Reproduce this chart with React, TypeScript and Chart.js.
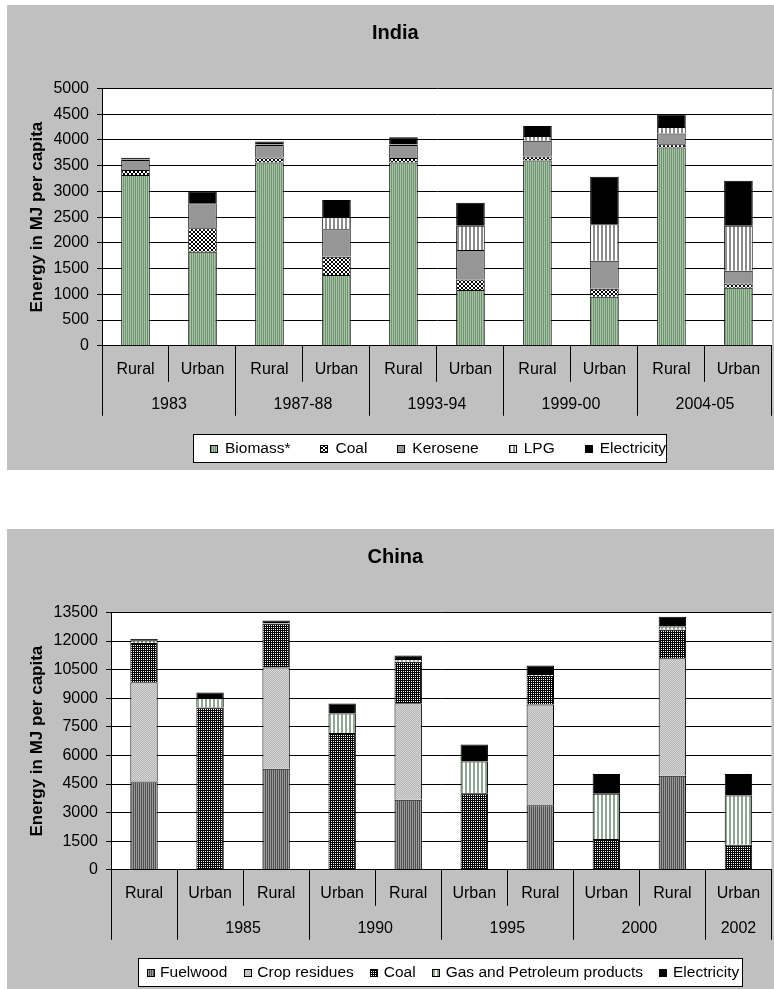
import React, { useEffect, useRef } from 'react';
import { Chart, registerables } from 'chart.js';

Chart.register(...registerables);

const FONT = 'Arial, "Liberation Sans", sans-serif';

// ---------------- India ----------------
const indiaCategories = ['Rural', 'Urban', 'Rural', 'Urban', 'Rural', 'Urban', 'Rural', 'Urban', 'Rural', 'Urban'];
const indiaYears = ['1983', '1987-88', '1993-94', '1999-00', '2004-05'];
const indiaGroupSizes = [2, 2, 2, 2, 2];
const indiaBiomass = [3317, 1827, 3560, 1374, 3560, 1082, 3600, 952, 3850, 1127];
const indiaCoal = [100, 454, 100, 356, 90, 208, 75, 156, 65, 85];
const indiaKerosene = [190, 486, 240, 532, 250, 570, 310, 544, 210, 245];
const indiaLPG = [10, 0, 10, 233, 10, 472, 90, 707, 125, 875];
const indiaElectricity = [35, 226, 60, 336, 140, 447, 195, 925, 250, 874];
const indiaYMax = 5000;
const indiaYStep = 500;

// ---------------- China ----------------
const chinaCategories = ['Rural', 'Urban', 'Rural', 'Urban', 'Rural', 'Urban', 'Rural', 'Urban', 'Rural', 'Urban'];
const chinaYears = ['', '1985', '1990', '1995', '2000', '2002'];
const chinaGroupSizes = [1, 2, 2, 2, 2, 1];
const chinaFuelwood = [4630, 0, 5300, 0, 3670, 0, 3390, 0, 4930, 0];
const chinaCropResidues = [5200, 0, 5310, 0, 5070, 0, 5280, 0, 6170, 0];
const chinaCoal = [2060, 8510, 2290, 7170, 2170, 4020, 1500, 1610, 1490, 1310];
const chinaGas = [150, 490, 30, 1030, 140, 1660, 105, 2380, 175, 2590];
const chinaElectricity = [60, 300, 150, 525, 190, 890, 435, 1030, 505, 1120];
const chinaYMax = 13500;
const chinaYStep = 1500;

const Y_TITLE = 'Energy in MJ per capita';

function tile(cells: string[][]): CanvasPattern {
  const h = cells.length;
  const w = cells[0].length;
  const c = document.createElement('canvas');
  c.width = w;
  c.height = h;
  const g = c.getContext('2d')!;
  cells.forEach((row, y) =>
    row.forEach((col, x) => {
      g.fillStyle = col;
      g.fillRect(x, y, 1, 1);
    })
  );
  return g.createPattern(c, 'repeat')!;
}
const vstripes = (cols: string[]) => tile([cols]);

const alignPx = (p: number) => Math.round(p - 0.5) + 0.5;

const panelPlugin = {
  id: 'panel',
  beforeDraw(chart: any) {
    const { ctx, width, height, chartArea: ca } = chart;
    ctx.save();
    ctx.fillStyle = '#c0c0c0';
    ctx.fillRect(0, 0, width, height);
    ctx.fillStyle = '#ffffff';
    ctx.fillRect(ca.left, ca.top, ca.right - ca.left, ca.bottom - ca.top);
    ctx.restore();
  },
  afterDraw(chart: any, _args: any, o: any) {
    const { ctx, chartArea: ca } = chart;
    const n = chart.data.labels.length;
    const bw = (ca.right - ca.left) / n;
    const bounds = [0];
    o.groupSizes.forEach((s: number) => bounds.push(bounds[bounds.length - 1] + s));
    ctx.save();
    ctx.strokeStyle = '#000';
    ctx.lineWidth = 1;
    ctx.beginPath();
    for (let i = 0; i <= n; i++) {
      const x = alignPx(ca.left + i * bw);
      const len = bounds.includes(i) ? o.longTick : o.shortTick;
      ctx.moveTo(x, ca.bottom);
      ctx.lineTo(x, ca.bottom + len);
    }
    ctx.stroke();

    ctx.fillStyle = '#000';
    ctx.font = `16px ${FONT}`;
    ctx.textAlign = 'center';
    ctx.textBaseline = 'middle';
    o.years.forEach((y: string, g: number) => {
      const cx = ca.left + (bounds[g] + o.groupSizes[g] / 2) * bw;
      ctx.fillText(y, cx, ca.bottom + o.yearOffset);
    });

    const L = o.legend;
    ctx.fillStyle = '#fff';
    ctx.fillRect(L.left, L.top, L.width, L.height);
    ctx.strokeRect(L.left + 0.5, L.top + 0.5, L.width - 1, L.height - 1);
    let x = L.startX;
    const cy = L.top + L.height / 2;
    ctx.textAlign = 'left';
    ctx.font = `${L.fontSize}px ${FONT}`;
    chart.data.datasets.forEach((ds: any) => {
      const by = Math.round(cy - L.box / 2);
      ctx.fillStyle = ds.backgroundColor;
      ctx.fillRect(Math.round(x), by, L.box, L.box);
      ctx.strokeRect(Math.round(x) + 0.5, by + 0.5, L.box - 1, L.box - 1);
      ctx.fillStyle = '#000';
      ctx.fillText(ds.label, x + L.textGap, cy);
      x += L.textGap + ctx.measureText(ds.label).width + L.gap;
    });
    ctx.restore();
  },
};

type Series = { label: string; data: number[]; fill: string | CanvasPattern };

type PanelProps = {
  title: string;
  top: number;
  height: number;
  labels: string[];
  makeSeries: () => Series[];
  yMax: number;
  yStep: number;
  yAxisWidth: number;
  barPct: number;
  years: string[];
  groupSizes: number[];
  legend: any;
};

const CANVAS_W = 767;
const PLOT_BOTTOM = 340.8;
const PAD_LEFT = 11;

function Panel(p: PanelProps) {
  const ref = useRef<HTMLCanvasElement>(null);
  useEffect(() => {
    const series = p.makeSeries();
    const chart = new Chart(ref.current!, {
      type: 'bar',
      data: {
        labels: p.labels,
        datasets: series.map((s) => ({
          label: s.label,
          data: s.data,
          backgroundColor: s.fill as any,
          borderColor: '#000',
          borderWidth: 1,
        })),
      },
      options: {
        responsive: false,
        animation: false,
        devicePixelRatio: 1,
        layout: { padding: { left: PAD_LEFT, right: 1.5, top: 0, bottom: 0 } },
        datasets: { bar: { barPercentage: p.barPct, categoryPercentage: 1 } },
        plugins: {
          legend: { display: false },
          tooltip: { enabled: false },
          title: {
            display: true,
            text: p.title,
            color: '#000',
            font: { family: FONT, size: 20, weight: 'bold' },
            padding: { top: 16, bottom: 43.4 },
          },
          panel: {
            years: p.years,
            groupSizes: p.groupSizes,
            shortTick: 36,
            longTick: 70,
            yearOffset: 59,
            legend: p.legend,
          },
        } as any,
        scales: {
          x: {
            stacked: true,
            offset: true,
            grid: { display: false, drawTicks: false },
            border: { display: true, color: '#000', width: 1 },
            ticks: {
              color: '#000',
              font: { family: FONT, size: 16 },
              padding: 13.7,
              autoSkip: false,
              maxRotation: 0,
            },
            afterFit: (s: any) => {
              s.height = p.height - PLOT_BOTTOM;
            },
          },
          y: {
            stacked: true,
            min: 0,
            max: p.yMax,
            ticks: {
              stepSize: p.yStep,
              color: '#000',
              font: { family: FONT, size: 16 },
              padding: 8,
              callback: (v: any) => String(v),
            },
            grid: { color: '#000', lineWidth: 1, tickLength: 5 },
            border: { color: '#000', width: 1 },
            title: {
              display: true,
              text: Y_TITLE,
              color: '#000',
              font: { family: FONT, size: 17, weight: 'bold' },
              padding: { top: 8.8, bottom: 0 },
            },
            afterFit: (s: any) => {
              s.width = p.yAxisWidth - PAD_LEFT;
            },
          },
        },
      },
      plugins: [panelPlugin],
    });
    return () => chart.destroy();
  }, []);
  return (
    <canvas
      ref={ref}
      width={CANVAS_W}
      height={p.height}
      style={{ position: 'absolute', left: 7, top: p.top, width: CANVAS_W, height: p.height, display: 'block' }}
    />
  );
}

const indiaSeries = (): Series[] => [
  { label: 'Biomass*', data: indiaBiomass, fill: vstripes(['#6f936f', '#a9c5a9']) },
  {
    label: 'Coal',
    data: indiaCoal,
    fill: tile([
      ['#000', '#000', '#fff', '#fff'],
      ['#000', '#000', '#fff', '#fff'],
      ['#fff', '#fff', '#000', '#000'],
      ['#fff', '#fff', '#000', '#000'],
    ]),
  },
  { label: 'Kerosene', data: indiaKerosene, fill: '#969696' },
  { label: 'LPG', data: indiaLPG, fill: vstripes(['#fff', '#fff', '#8c8c8c', '#8c8c8c']) },
  { label: 'Electricity', data: indiaElectricity, fill: '#000' },
];

const chinaSeries = (): Series[] => [
  { label: 'Fuelwood', data: chinaFuelwood, fill: vstripes(['#4f4f4f', '#9c9c9c']) },
  {
    label: 'Crop residues',
    data: chinaCropResidues,
    fill: tile([
      ['#d6d6d6', '#b5b5b5'],
      ['#b5b5b5', '#d6d6d6'],
    ]),
  },
  {
    label: 'Coal',
    data: chinaCoal,
    fill: tile([
      ['#fff', '#000'],
      ['#000', '#000'],
    ]),
  },
  { label: 'Gas and Petroleum products', data: chinaGas, fill: vstripes(['#fff', '#fff', '#8fa78f', '#8fa78f']) },
  { label: 'Electricity', data: chinaElectricity, fill: '#000' },
];

export default function App() {
  return (
    <div style={{ position: 'absolute', left: 0, top: 0, width: 774, height: 989, overflow: 'hidden', background: '#fff' }}>
      <Panel
        title="India"
        top={5}
        height={465}
        labels={indiaCategories}
        makeSeries={indiaSeries}
        yMax={indiaYMax}
        yStep={indiaYStep}
        yAxisWidth={95}
        barPct={0.427}
        years={indiaYears}
        groupSizes={indiaGroupSizes}
        legend={{ left: 186, top: 429, width: 474, height: 29, startX: 203, textGap: 15, gap: 30, box: 8, fontSize: 15.5 }}
      />
      <Panel
        title="China"
        top={529}
        height={460}
        labels={chinaCategories}
        makeSeries={chinaSeries}
        yMax={chinaYMax}
        yStep={chinaYStep}
        yAxisWidth={104}
        barPct={0.415}
        years={chinaYears}
        groupSizes={chinaGroupSizes}
        legend={{ left: 131, top: 429, width: 605, height: 29, startX: 139.6, textGap: 13.5, gap: 16.5, box: 8, fontSize: 15.5 }}
      />
    </div>
  );
}
